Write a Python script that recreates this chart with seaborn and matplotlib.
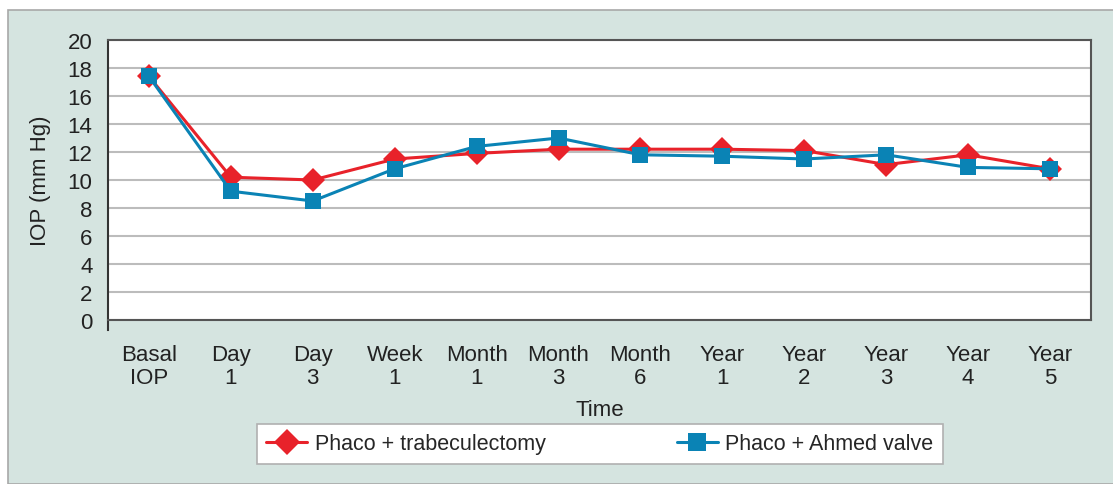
import pandas as pd
import seaborn as sns
import matplotlib.pyplot as plt
from matplotlib.patches import Rectangle

times = ["Basal\nIOP", "Day\n1", "Day\n3", "Week\n1", "Month\n1", "Month\n3",
         "Month\n6", "Year\n1", "Year\n2", "Year\n3", "Year\n4", "Year\n5"]
trab = [17.4, 10.2, 10.0, 11.5, 11.9, 12.2, 12.2, 12.2, 12.1, 11.1, 11.8, 10.8]
ahmed = [17.4, 9.2, 8.5, 10.8, 12.4, 13.0, 11.8, 11.7, 11.5, 11.8, 10.9, 10.8]
series = ["Phaco + trabeculectomy", "Phaco + Ahmed valve"]

df = pd.DataFrame({"Time": list(range(len(times))) * 2,
                   "IOP": trab + ahmed,
                   "Group": [series[0]] * len(times) + [series[1]] * len(times)})

sns.set_style("white")
plt.rcParams['font.family'] = ['Liberation Sans', 'DejaVu Sans']
fs = 16

bg = "#d5e4e0"
red = "#e8222a"
blue = "#0a83b5"
txt = "#222222"

fig = plt.figure(figsize=(11.13, 4.85), dpi=100, facecolor="white")
# background panel with thin border
fig.patches.append(Rectangle((8 / 1113, 0), 1, 1 - 11 / 485, transform=fig.transFigure,
                             facecolor=bg, edgecolor="#a8a8a8", lw=1.2, zorder=-1))
ax = fig.add_axes([108 / 1113, 1 - 321 / 485, (1091 - 108) / 1113, (321 - 41) / 485])
ax.set_facecolor("white")

sns.lineplot(data=df, x="Time", y="IOP", hue="Group", style="Group",
             palette=[red, blue], markers=["D", "s"], dashes=False,
             markersize=12, markeredgewidth=0, linewidth=2.2, ax=ax)

ax.set_xlim(-0.5, len(times) - 0.5)
ax.set_ylim(0, 20)
ax.set_yticks(range(0, 21, 2))
ax.set_xticks(range(len(times)))
ax.set_xticklabels(times, linespacing=1.15)
ax.tick_params(axis="x", length=0, pad=17, colors=txt, labelsize=fs)
ax.tick_params(axis="y", length=7.2, width=1.0, color="#444444", direction="out",
               pad=4, colors=txt, labelsize=fs)
ax.grid(axis="y", color="#bcbcbc", lw=1.5)
ax.set_axisbelow(True)
for s in ax.spines.values():
    s.set_color("#555555")
    s.set_linewidth(1.5)
ax.spines["left"].set_color("#333333")
ax.spines["left"].set_bounds(-0.7, 20)

ax.set_xlabel("Time", fontsize=fs, color=txt, labelpad=8)
ax.set_ylabel("IOP (mm Hg)", fontsize=fs, color=txt, labelpad=12)

leg = ax.legend(loc="center", bbox_to_anchor=(600 / 1113, 1 - 445 / 485),
                bbox_transform=fig.transFigure, ncol=2, columnspacing=6.1,
                frameon=True, fancybox=False, framealpha=1, fontsize=15.5,
                handlelength=1.9, handletextpad=0.35, borderpad=0.45,
                markerscale=1.1, title=None)
leg.get_frame().set_facecolor("white")
leg.get_frame().set_edgecolor("#b0b0b0")
leg.get_frame().set_linewidth(1.2)

fig.savefig("out.png", dpi=100, facecolor="white")
